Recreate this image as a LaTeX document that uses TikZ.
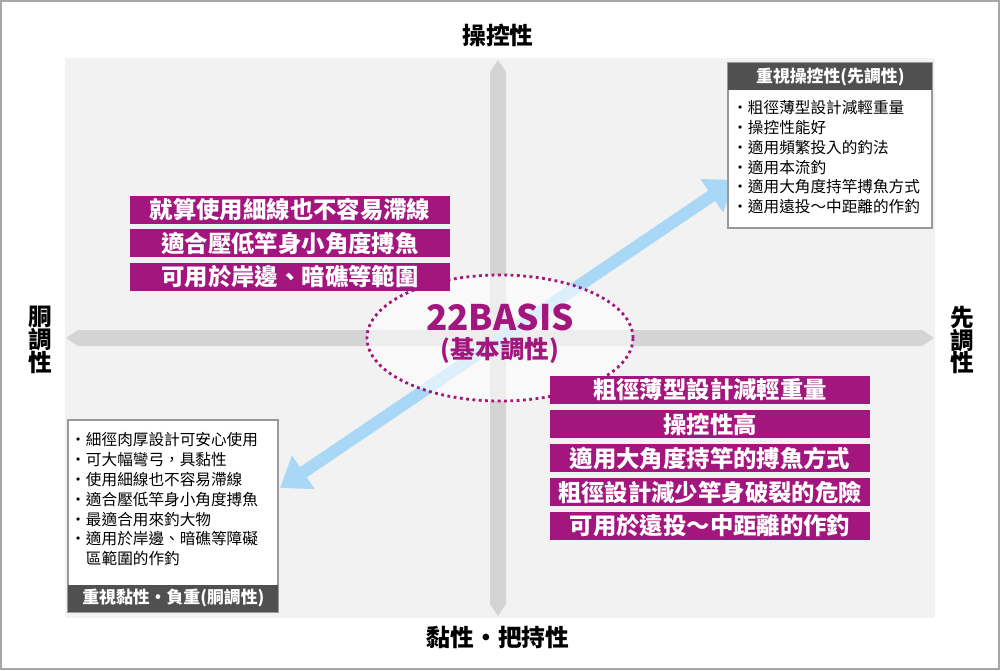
\documentclass[tikz,border=0pt]{standalone}
\usepackage{fontspec}
\setmainfont{Noto Sans CJK TC}
\usetikzlibrary{arrows.meta,shapes.geometric}
\definecolor{pur}{HTML}{A3167E}
\definecolor{axisg}{HTML}{D4D4D4}
\definecolor{panel}{HTML}{F2F2F2}
\definecolor{hdr}{HTML}{505050}
\definecolor{lblue}{HTML}{A9D8F7}
\tikzset{
 pbox/.style={fill=pur,text=white,minimum width=320*0.02cm,minimum height=28*0.02cm,inner sep=0pt,font=\fontsize{13.3}{14}\selectfont\bfseries},
 axlbl/.style={font=\fontsize{13.5}{15}\selectfont\bfseries,align=center},
 item/.style={font=\fontsize{8.9}{11.3}\selectfont,align=left,anchor=north west,inner sep=0pt},
 hdrbox/.style={fill=hdr,text=white,font=\fontsize{9.6}{11}\selectfont\bfseries,inner sep=0pt}
}
\begin{document}
\begin{tikzpicture}[x=0.02cm,y=-0.02cm]
\useasboundingbox (0,0) rectangle (1000,670);
\draw[gray!70,line width=1pt,fill=white] (1,1) rectangle (999,669);
\fill[panel] (65,58) rectangle (935,618);
% axes
\fill[axisg] (490,72) -- (498,60) -- (506,72) -- (506,604) -- (498,616) -- (490,604) -- cycle;
\fill[axisg] (78,330) -- (66,338) -- (78,346) -- (922,346) -- (934,338) -- (922,330) -- cycle;
% labels
\node[axlbl] (top) at (498,35) {操控性};
\node[axlbl] (bot) at (498,637) {黏性・把持性};
\node[axlbl,font=\fontsize{13.5}{13}\selectfont\bfseries] (lft) at (40,340) {胴\\調\\性};
\node[axlbl,font=\fontsize{13.5}{13}\selectfont\bfseries] (rgt) at (962,340) {先\\調\\性};
% arrow
\coordinate (aS) at (280,488);
\coordinate (aE) at (735,180);
\draw[lblue,line width=7pt,{Triangle[width=22pt,length=16pt]}-{Triangle[width=22pt,length=16pt]}] (aS) -- (aE);
% ellipse
\node[draw=pur,dotted,line width=1.6pt,ellipse,minimum width=266*0.02cm,minimum height=126*0.02cm,fill=white,fill opacity=0.6,text opacity=1] (ell) at (500,338) {};
\node[text=pur,font=\fontsize{20}{22}\selectfont\bfseries,align=center] (core) at (500,334) {22BASIS\\[-6pt]{\fontsize{14}{16}\selectfont (基本調性)}};
% left purple
\node[pbox] (l1) at (290,210) {就算使用細線也不容易滯線};
\node[pbox] (l2) at (290,243) {適合壓低竿身小角度搏魚};
\node[pbox] (l3) at (290,277) {可用於岸邊、暗礁等範圍};
% right purple
\node[pbox] (r1) at (710,390) {粗徑薄型設計減輕重量};
\node[pbox] (r2) at (710,424) {操控性高};
\node[pbox] (r3) at (710,458) {適用大角度持竿的搏魚方式};
\node[pbox] (r4) at (710,492) {粗徑設計減少竿身破裂的危險};
\node[pbox] (r5) at (710,526) {可用於遠投～中距離的作釣};
% top-right box
\draw[gray!80,fill=white,line width=0.6pt] (728,63) rectangle (932,228);
\node[hdrbox,minimum width=204*0.02cm,minimum height=27*0.02cm,anchor=north west] (trh) at (728,63) {重視操控性(先調性)};
\node[item] (tri) at (732,100) {・粗徑薄型設計減輕重量\\・操控性能好\\・適用頻繁投入的釣法\\・適用本流釣\\・適用大角度持竿搏魚方式\\・適用遠投～中距離的作釣};
% bottom-left box
\draw[gray!80,fill=white,line width=0.6pt] (68,420) rectangle (278,612);
\node[hdrbox,minimum width=210*0.02cm,minimum height=27*0.02cm,anchor=south west] (blh) at (68,612) {重視黏性・負重(胴調性)};
\node[item] (bli) at (70,432) {・細徑肉厚設計可安心使用\\・可大幅彎弓，具黏性\\・使用細線也不容易滯線\\・適合壓低竿身小角度搏魚\\・最適合用來釣大物\\・適用於岸邊、暗礁等障礙\\\phantom{・}區範圍的作釣};
\end{tikzpicture}
\end{document}
